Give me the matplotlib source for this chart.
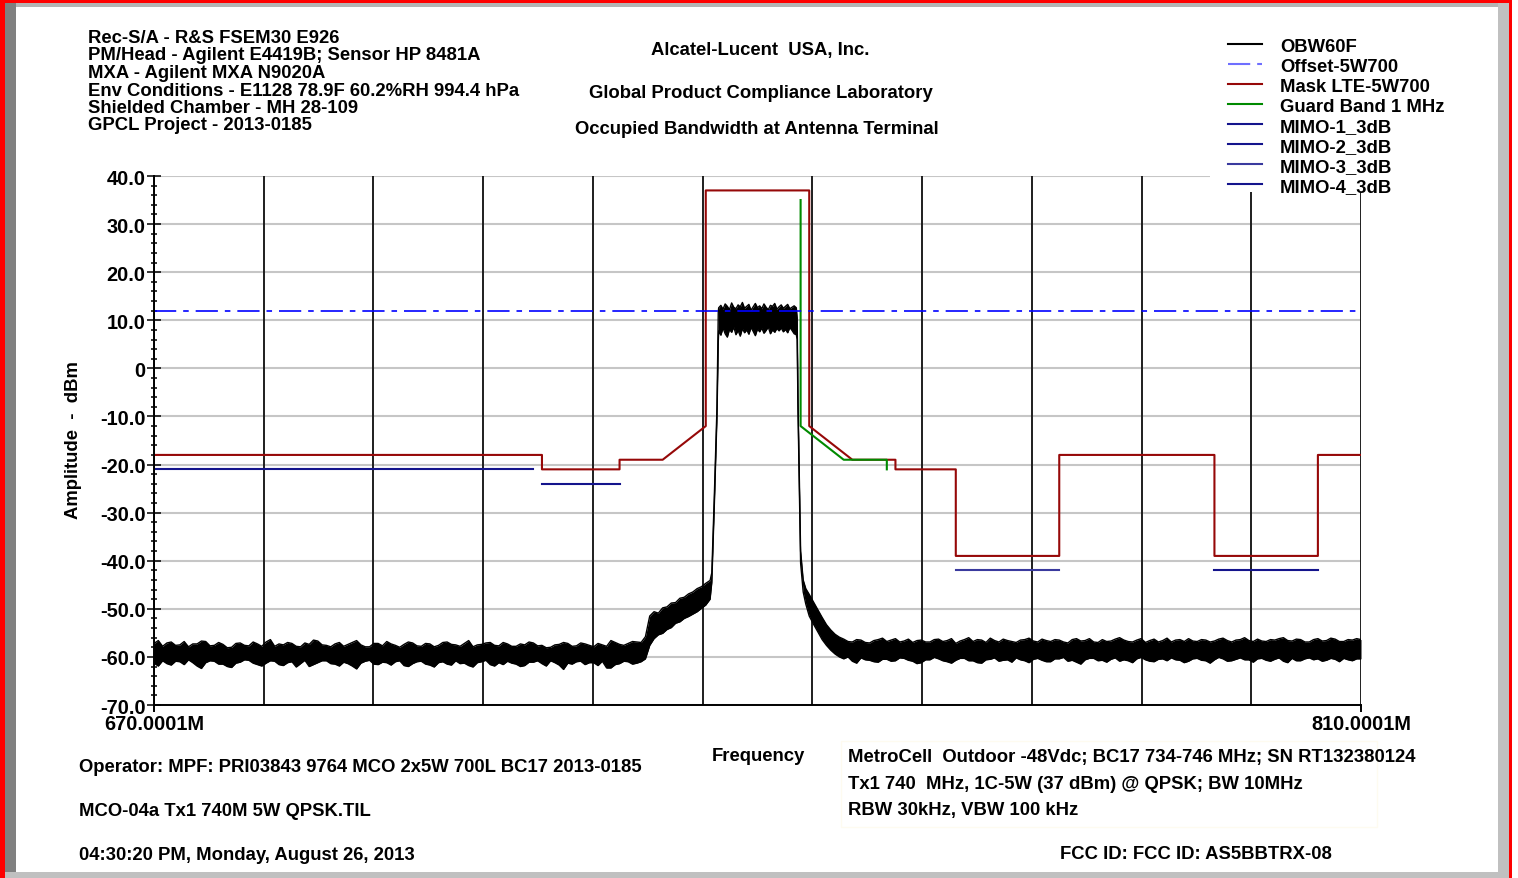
#!/usr/bin/env python3
"""Occupied bandwidth at antenna terminal, LTE 5W700 mask"""

import matplotlib

matplotlib.use("Agg")
import matplotlib.pyplot as plt
import numpy as np
from matplotlib.lines import Line2D
from matplotlib.patches import Rectangle
from matplotlib.ticker import MultipleLocator

W, H = 1518, 879
FS = 13.3

plt.rcParams["font.family"] = ["Liberation Sans", "DejaVu Sans"]
plt.rcParams["font.weight"] = "bold"
plt.rcParams["lines.scale_dashes"] = False

# ---- axis ----
F_START, F_STOP = 670.0, 810.0
DB_MIN, DB_MAX = -70.0, 40.0
Y_TICKS = [40, 30, 20, 10, 0, -10, -20, -30, -40, -50, -60, -70]
Y_LABELS = ["40.0", "30.0", "20.0", "10.0", "0", "-10.0", "-20.0",
            "-30.0", "-40.0", "-50.0", "-60.0", "-70.0"]
X_TICKS = [670, 810]
X_LABELS = ["670.0001M", "810.0001M"]

# ---- limit lines ----
OFFSET_F = [670, 810]
OFFSET_DB = [12, 12]

MASK_F = [670, 715, 715, 724, 724, 729, 734, 734, 746, 746, 751, 756, 756,
          763, 763, 775, 775, 793, 793, 805, 805, 810]
MASK_DB = [-18, -18, -21, -21, -19, -19, -12, 37, 37, -12, -19, -19, -21,
           -21, -39, -39, -18, -18, -39, -39, -18, -18]

GUARD_F = [745, 745, 750, 755, 755]
GUARD_DB = [35, -12, -19, -19, -21]

MIMO1_F, MIMO1_DB = [670, 714], [-21, -21]
MIMO2_F, MIMO2_DB = [715, 724], [-24, -24]
MIMO3_F, MIMO3_DB = [763, 775], [-42, -42]
MIMO4_F, MIMO4_DB = [793, 805], [-42, -42]

# ---- measured trace (OBW60F): upper / lower edge of the trace band ----
# noise floor below the carrier, 670 - 726 MHz
FLOOR_L_F = [
    670.0, 670.5, 671.0, 671.5, 672.0, 672.5, 673.0, 673.5, 674.0, 674.5,
    675.0, 675.5, 676.0, 676.5, 677.0, 677.5, 678.0, 678.5, 679.0, 679.5,
    680.0, 680.5, 681.0, 681.5, 682.0, 682.5, 683.0, 683.5, 684.0, 684.5,
    685.0, 685.5, 686.0, 686.5, 687.0, 687.5, 688.0, 688.5, 689.0, 689.5,
    690.0, 690.5, 691.0, 691.5, 692.0, 692.5, 693.0, 693.5, 694.0, 694.5,
    695.0, 695.5, 696.0, 696.5, 697.0, 697.5, 698.0, 698.5, 699.0, 699.5,
    700.0, 700.5, 701.0, 701.5, 702.0, 702.5, 703.0, 703.5, 704.0, 704.5,
    705.0, 705.5, 706.0, 706.5, 707.0, 707.5, 708.0, 708.5, 709.0, 709.5,
    710.0, 710.5, 711.0, 711.5, 712.0, 712.5, 713.0, 713.5, 714.0, 714.5,
    715.0, 715.5, 716.0, 716.5, 717.0, 717.5, 718.0, 718.5, 719.0, 719.5,
    720.0, 720.5, 721.0, 721.5, 722.0, 722.5, 723.0, 723.5, 724.0, 724.5,
    725.0, 725.5, 726.0,
]
FLOOR_L_HI = [
    -57.2, -56.6, -57.8, -57.1, -56.9, -57.6, -57.5, -56.8, -57.9, -57.3,
    -57.3, -56.7, -56.8, -57.7, -57.6, -57.0, -57.4, -58.1, -58.0, -57.2,
    -57.1, -57.6, -57.7, -56.9, -57.3, -57.8, -56.9, -56.4, -57.8, -57.3,
    -57.5, -57.0, -57.2, -57.8, -57.9, -57.1, -57.4, -56.5, -56.7, -57.5,
    -57.6, -57.9, -57.3, -57.0, -57.8, -57.4, -57.0, -56.6, -57.5, -57.9,
    -57.9, -57.2, -57.2, -57.7, -56.8, -57.3, -57.6, -58.0, -57.4, -56.9,
    -57.1, -57.7, -57.8, -57.2, -57.3, -57.9, -57.6, -57.0, -56.9, -57.4,
    -57.5, -57.8, -57.2, -56.6, -57.9, -57.5, -57.4, -57.1, -57.0, -57.6,
    -57.7, -57.0, -57.3, -57.8, -57.8, -57.3, -57.5, -56.9, -57.1, -57.7,
    -57.6, -58.1, -58.0, -57.5, -57.4, -57.0, -57.2, -57.8, -57.7, -57.1,
    -57.3, -57.6, -57.9, -57.2, -57.5, -57.8, -56.6, -57.0, -57.4, -57.6,
    -57.2, -56.8, -56.9,
]
FLOOR_L_LO = [
    -61.3, -61.9, -60.8, -61.4, -61.7, -60.9, -61.0, -61.6, -60.6, -61.2,
    -61.9, -62.4, -61.2, -60.8, -60.9, -61.5, -61.5, -62.0, -62.2, -61.3,
    -61.1, -60.6, -60.7, -61.3, -61.6, -61.9, -61.3, -60.8, -60.9, -61.6,
    -61.8, -61.2, -61.0, -62.1, -61.4, -60.7, -62.0, -61.6, -61.2, -60.8,
    -60.8, -61.4, -61.5, -61.9, -61.1, -61.4, -61.9, -62.5, -61.3, -60.9,
    -60.7, -61.5, -61.6, -61.1, -61.2, -61.7, -61.0, -60.8, -61.8, -62.0,
    -61.4, -61.0, -60.9, -61.5, -61.7, -62.1, -61.2, -61.0, -61.5, -61.7,
    -60.8, -61.4, -61.3, -61.8, -62.1, -61.2, -61.0, -60.7, -61.6, -61.9,
    -61.2, -61.6, -60.9, -61.3, -61.5, -62.0, -61.8, -61.1, -61.1, -60.8,
    -61.4, -61.9, -60.8, -61.2, -61.7, -62.6, -61.3, -61.5, -61.0, -60.9,
    -61.6, -61.2, -61.2, -61.8, -60.9, -62.3, -62.3, -61.6, -61.4, -60.9,
    -61.0, -61.5, -61.3,
]

# shoulder + lower skirt, 726.5 - 735.45 MHz
SKIRT_L_F = [726.5, 727.0, 727.5, 728.0, 728.5, 729.0, 729.5, 730.0, 730.5,
             731.0, 731.5, 732.0, 732.5, 733.0, 733.5, 734.0, 734.5, 734.7,
             735.0, 735.3, 735.45]
SKIRT_L_HI = [-57.0, -55.8, -51.5, -50.6, -50.9, -49.8, -49.6, -48.8, -48.7,
              -47.8, -47.6, -46.9, -46.5, -45.8, -45.4, -44.7, -44.1, -42.5,
              -26.0, -8.0, 11.8]
SKIRT_L_LO = [-61.0, -60.4, -57.6, -56.2, -55.4, -55.1, -54.3, -53.9, -53.0,
              -52.7, -52.0, -51.6, -51.1, -50.6, -49.9, -49.2, -48.0, -44.5,
              -28.0, -10.0, 5.5]

# in-band, 735.5 - 744.5 MHz
BAND_F = [
    735.5, 735.75, 736.0, 736.25, 736.5, 736.75, 737.0, 737.25, 737.5, 737.75,
    738.0, 738.25, 738.5, 738.75, 739.0, 739.25, 739.5, 739.75, 740.0, 740.25,
    740.5, 740.75, 741.0, 741.25, 741.5, 741.75, 742.0, 742.25, 742.5, 742.75,
    743.0, 743.25, 743.5, 743.75, 744.0, 744.25, 744.5,
]
BAND_HI = [
    12.6, 13.1, 12.3, 13.4, 12.9, 12.2, 13.6, 12.7, 12.4, 13.2,
    12.8, 13.7, 12.5, 12.9, 13.3, 12.1, 12.8, 13.5, 12.6, 13.0,
    12.4, 13.4, 12.7, 12.2, 13.1, 12.9, 13.5, 12.3, 12.8, 13.2,
    12.5, 12.9, 13.3, 12.4, 12.7, 13.0, 12.6,
]
BAND_LO = [
    7.8, 6.9, 8.4, 7.2, 6.5, 8.1, 7.5, 8.6, 7.0, 7.9,
    6.7, 8.3, 7.4, 8.0, 7.1, 8.5, 7.7, 6.8, 8.2, 7.6,
    8.4, 7.3, 7.9, 8.6, 7.2, 8.0, 7.5, 8.3, 7.8, 8.4,
    7.6, 8.1, 7.4, 8.5, 7.9, 7.2, 7.0,
]

# upper skirt, 744.6 - 749.5 MHz
SKIRT_U_F = [744.6, 744.7, 745.0, 745.3, 745.6, 746.0, 746.5, 747.0, 747.5,
             748.0, 748.5, 749.0, 749.5]
SKIRT_U_HI = [10.5, -7.0, -38.0, -44.0, -45.8, -47.0, -48.6, -50.2, -51.8,
              -53.3, -54.4, -55.3, -55.9]
SKIRT_U_LO = [6.0, -9.0, -40.5, -46.5, -49.0, -51.5, -53.2, -54.8, -56.4,
              -57.6, -58.6, -59.4, -60.0]

# noise floor above the carrier, 750 - 810 MHz
FLOOR_R_F = [
    750.0, 750.5, 751.0, 751.5, 752.0, 752.5, 753.0, 753.5, 754.0, 754.5,
    755.0, 755.5, 756.0, 756.5, 757.0, 757.5, 758.0, 758.5, 759.0, 759.5,
    760.0, 760.5, 761.0, 761.5, 762.0, 762.5, 763.0, 763.5, 764.0, 764.5,
    765.0, 765.5, 766.0, 766.5, 767.0, 767.5, 768.0, 768.5, 769.0, 769.5,
    770.0, 770.5, 771.0, 771.5, 772.0, 772.5, 773.0, 773.5, 774.0, 774.5,
    775.0, 775.5, 776.0, 776.5, 777.0, 777.5, 778.0, 778.5, 779.0, 779.5,
    780.0, 780.5, 781.0, 781.5, 782.0, 782.5, 783.0, 783.5, 784.0, 784.5,
    785.0, 785.5, 786.0, 786.5, 787.0, 787.5, 788.0, 788.5, 789.0, 789.5,
    790.0, 790.5, 791.0, 791.5, 792.0, 792.5, 793.0, 793.5, 794.0, 794.5,
    795.0, 795.5, 796.0, 796.5, 797.0, 797.5, 798.0, 798.5, 799.0, 799.5,
    800.0, 800.5, 801.0, 801.5, 802.0, 802.5, 803.0, 803.5, 804.0, 804.5,
    805.0, 805.5, 806.0, 806.5, 807.0, 807.5, 808.0, 808.5, 809.0, 809.5,
    810.0,
]
FLOOR_R_HI = [
    -56.3, -56.8, -56.9, -56.4, -56.5, -57.0, -57.1, -56.6, -56.4, -56.1,
    -56.8, -56.5, -56.2, -56.9, -56.7, -56.3, -57.0, -56.6, -56.5, -56.9,
    -56.9, -56.4, -56.3, -56.8, -56.6, -56.2, -57.2, -56.7, -56.4, -56.0,
    -56.8, -56.4, -56.5, -57.0, -56.1, -56.6, -56.9, -56.3, -56.6, -56.8,
    -57.0, -56.5, -56.4, -56.1, -56.7, -56.9, -56.3, -56.6, -56.8, -56.4,
    -56.5, -56.9, -57.1, -56.4, -56.2, -56.7, -56.6, -56.2, -56.9, -57.0,
    -56.4, -56.8, -56.7, -56.3, -56.0, -56.5, -56.8, -56.9, -56.5, -56.2,
    -57.0, -56.6, -56.3, -56.9, -56.6, -56.1, -56.9, -56.5, -56.4, -56.8,
    -56.2, -56.7, -56.8, -56.4, -56.5, -56.9, -56.7, -56.3, -56.1, -56.6,
    -56.9, -56.5, -56.4, -56.0, -56.6, -56.8, -56.3, -56.7, -56.8, -56.4,
    -56.5, -56.2, -56.0, -56.6, -56.7, -56.3, -56.4, -56.9, -56.9, -56.4,
    -56.2, -56.7, -56.6, -56.1, -56.3, -56.8, -56.8, -56.4, -56.5, -56.2,
    -56.4,
]
FLOOR_R_LO = [
    -60.4, -60.0, -60.9, -61.3, -60.2, -60.6, -60.7, -61.0, -61.1, -60.5,
    -60.5, -60.9, -60.8, -60.2, -60.3, -60.7, -60.9, -61.4, -61.2, -60.6,
    -60.6, -60.1, -60.4, -60.8, -61.0, -61.3, -60.7, -60.3, -60.3, -60.8,
    -60.8, -61.2, -61.3, -60.6, -60.5, -60.2, -60.9, -60.7, -60.6, -61.1,
    -60.2, -60.6, -60.8, -61.2, -60.5, -60.3, -60.7, -61.0, -61.0, -60.4,
    -60.4, -60.1, -60.9, -60.7, -61.1, -61.5, -60.6, -60.3, -60.3, -60.8,
    -60.7, -61.1, -60.5, -60.2, -60.9, -60.6, -60.8, -61.2, -60.4, -60.1,
    -60.6, -60.9, -61.0, -60.5, -60.4, -60.8, -60.2, -60.6, -60.7, -61.2,
    -60.9, -60.4, -60.3, -60.7, -60.8, -61.3, -60.6, -60.1, -60.4, -60.9,
    -60.8, -60.5, -60.2, -60.6, -60.6, -61.1, -60.4, -60.3, -60.7, -60.9,
    -60.5, -60.2, -60.9, -61.2, -60.3, -60.8, -60.8, -60.4, -60.2, -60.6,
    -60.4, -60.9, -60.7, -60.3, -60.5, -61.0, -60.3, -60.6, -60.8, -60.4,
    -60.4,
]

# ---- text ----
HEADER_LEFT = [
    "Rec-S/A - R&S FSEM30 E926",
    "PM/Head - Agilent E4419B; Sensor HP 8481A",
    "MXA - Agilent MXA N9020A",
    "Env Conditions - E1128 78.9F 60.2%RH 994.4 hPa",
    "Shielded Chamber - MH 28-109",
    "GPCL Project - 2013-0185",
]
HEADER_CENTER = [
    "Alcatel-Lucent  USA, Inc.",
    "Global Product Compliance Laboratory",
    "Occupied Bandwidth at Antenna Terminal",
]
FOOTER_LEFT = [
    "Operator: MPF: PRI03843 9764 MCO 2x5W 700L BC17 2013-0185",
    "MCO-04a Tx1 740M 5W QPSK.TIL",
    "04:30:20 PM, Monday, August 26, 2013",
]
FOOTER_RIGHT = [
    "MetroCell  Outdoor -48Vdc; BC17 734-746 MHz; SN RT132380124",
    "Tx1 740  MHz, 1C-5W (37 dBm) @ QPSK; BW 10MHz",
    "RBW 30kHz, VBW 100 kHz",
]
FCC_TEXT = "FCC ID: FCC ID: AS5BBTRX-08"

C_MASK = "#960808"
C_GUARD = "#008a00"
C_MIMO = "#14148c"
C_MIMO3 = "#3a3a9e"
C_OFFSET = "#0000ff"
OFFSET_DASH = (16, 5, 4, 5)

LEGEND = [
    ("OBW60F", "black", None),
    ("Offset-5W700", "#6f6fff", OFFSET_DASH),
    ("Mask LTE-5W700", C_MASK, None),
    ("Guard Band 1 MHz", C_GUARD, None),
    ("MIMO-1_3dB", C_MIMO, None),
    ("MIMO-2_3dB", C_MIMO, None),
    ("MIMO-3_3dB", C_MIMO3, None),
    ("MIMO-4_3dB", C_MIMO, None),
]


def fx(x):
    return x / W


def fy(y):
    return 1 - y / H


def put(fig, x, y, s, size=FS, ha="left", **kw):
    fig.text(fx(x), fy(y), s, fontsize=size, ha=ha, va="baseline",
             fontweight="bold", **kw)


def box(fig, x0, y0, x1, y1, color, z=10):
    fig.add_artist(Rectangle((fx(x0), fy(y1)), fx(x1) - fx(x0), fy(y0) - fy(y1),
                             transform=fig.transFigure, facecolor=color,
                             edgecolor="none", zorder=z))


spec_f = FLOOR_L_F + SKIRT_L_F + BAND_F + SKIRT_U_F + FLOOR_R_F
spec_hi = FLOOR_L_HI + SKIRT_L_HI + BAND_HI + SKIRT_U_HI + FLOOR_R_HI
spec_lo = FLOOR_L_LO + SKIRT_L_LO + BAND_LO + SKIRT_U_LO + FLOOR_R_LO
assert len(spec_f) == len(spec_hi) == len(spec_lo)

fig = plt.figure(figsize=(W / 100, H / 100), dpi=100)
fig.patch.set_facecolor("white")
ax = fig.add_axes([fx(154), fy(706), fx(1361) - fx(154), fy(177) - fy(706)])

ax.set_xlim(F_START, F_STOP)
ax.set_ylim(DB_MIN, DB_MAX)

# grid
ax.set_axisbelow(True)
ax.yaxis.grid(True, which="major", color="#c6c6c6", lw=1.5)
grid_x = np.linspace(F_START, F_STOP, 12)
ax.vlines(grid_x, DB_MIN, DB_MAX, colors="#1e1e1e", lw=1.4, zorder=1.5)

# trace
ax.fill_between(spec_f, spec_lo, spec_hi, color="black", lw=0, zorder=4)
ax.plot(spec_f, spec_hi, color="black", lw=1.0, zorder=4)
ax.plot(spec_f, spec_lo, color="black", lw=1.0, zorder=4)

# limit lines
ax.plot(MASK_F, MASK_DB, color=C_MASK, lw=1.5, zorder=3)
ax.plot(GUARD_F, GUARD_DB, color=C_GUARD, lw=1.5, zorder=3.2)
ax.plot(MIMO1_F, MIMO1_DB, color=C_MIMO, lw=1.5, zorder=3)
ax.plot(MIMO2_F, MIMO2_DB, color=C_MIMO, lw=1.5, zorder=3)
ax.plot(MIMO3_F, MIMO3_DB, color=C_MIMO3, lw=1.5, zorder=3)
ax.plot(MIMO4_F, MIMO4_DB, color=C_MIMO, lw=1.5, zorder=3)
ax.plot(OFFSET_F, OFFSET_DB, color=C_OFFSET, lw=1.2, dashes=OFFSET_DASH, zorder=5)

# axes
for side in ("top", "right"):
    ax.spines[side].set_visible(False)
for side in ("left", "bottom"):
    ax.spines[side].set_color("black")
    ax.spines[side].set_linewidth(1.4)
    ax.spines[side].set_zorder(6)

ax.set_yticks(Y_TICKS)
ax.set_yticklabels(Y_LABELS)
ax.yaxis.set_minor_locator(MultipleLocator(2))
ax.tick_params(axis="y", which="major", direction="inout", length=9.4,
               width=1.1, pad=1.5, labelsize=14.4)
ax.tick_params(axis="y", which="minor", direction="inout", length=5, width=1.1)
ax.set_xticks(X_TICKS)
ax.set_xticklabels(X_LABELS)
ax.tick_params(axis="x", which="major", direction="out", length=5,
               width=1.4, pad=1.5, labelsize=14.4)

# header
for i, s in enumerate(HEADER_LEFT):
    put(fig, 88, 43 + i * 17.5, s)
put(fig, 760, 54.5, HEADER_CENTER[0], ha="center")
put(fig, 761, 98.5, HEADER_CENTER[1], ha="center")
put(fig, 757, 133.5, HEADER_CENTER[2], ha="center")

# legend block (white background hides the grid behind it)
box(fig, 1210, 8, 1497, 193, "white", z=2.5)
for i, (label, color, dash) in enumerate(LEGEND):
    y = 45 + i * 20
    kw = {"dashes": dash} if dash else {}
    fig.add_artist(Line2D([fx(1228), fx(1262)], [fy(y), fy(y)],
                          transform=fig.transFigure, color=color, lw=1.5,
                          zorder=4, **kw))
    put(fig, 1280, y + 7.5, label, zorder=4)

# labels
fig.text(fx(73), fy(440), "Amplitude  -  dBm", rotation=90, ha="center",
         va="center", fontsize=FS, fontweight="bold")
put(fig, 758, 761, "Frequency", ha="center")

# footer
for i, s in enumerate(FOOTER_LEFT):
    put(fig, 79, 772.5 + i * 44, s)
for i, s in enumerate(FOOTER_RIGHT):
    put(fig, 848, 762.5 + i * 26.5, s)
fig.add_artist(Rectangle((fx(841), fy(828)), fx(1377) - fx(841),
                         fy(742) - fy(828), transform=fig.transFigure,
                         facecolor="none", edgecolor="#fefbf0", lw=1.0))
put(fig, 1060, 859.5, FCC_TEXT)

# window frame
box(fig, 0, 0, 5, H, "#ff0000", z=11)
box(fig, 0, 0, 1512, 3.5, "#ff0000", z=11)
box(fig, 1509, 0, 1512, H, "#ff0000", z=11)
box(fig, 5, 3.5, 1509, 8, "#b4b4b4")
box(fig, 5, 3.5, 16, H, "#808080")
box(fig, 1498, 3.5, 1509, H, "#c0c0c0")
box(fig, 5, 873, 1509, H, "#c0c0c0")

fig.savefig("out.png", dpi=100)
